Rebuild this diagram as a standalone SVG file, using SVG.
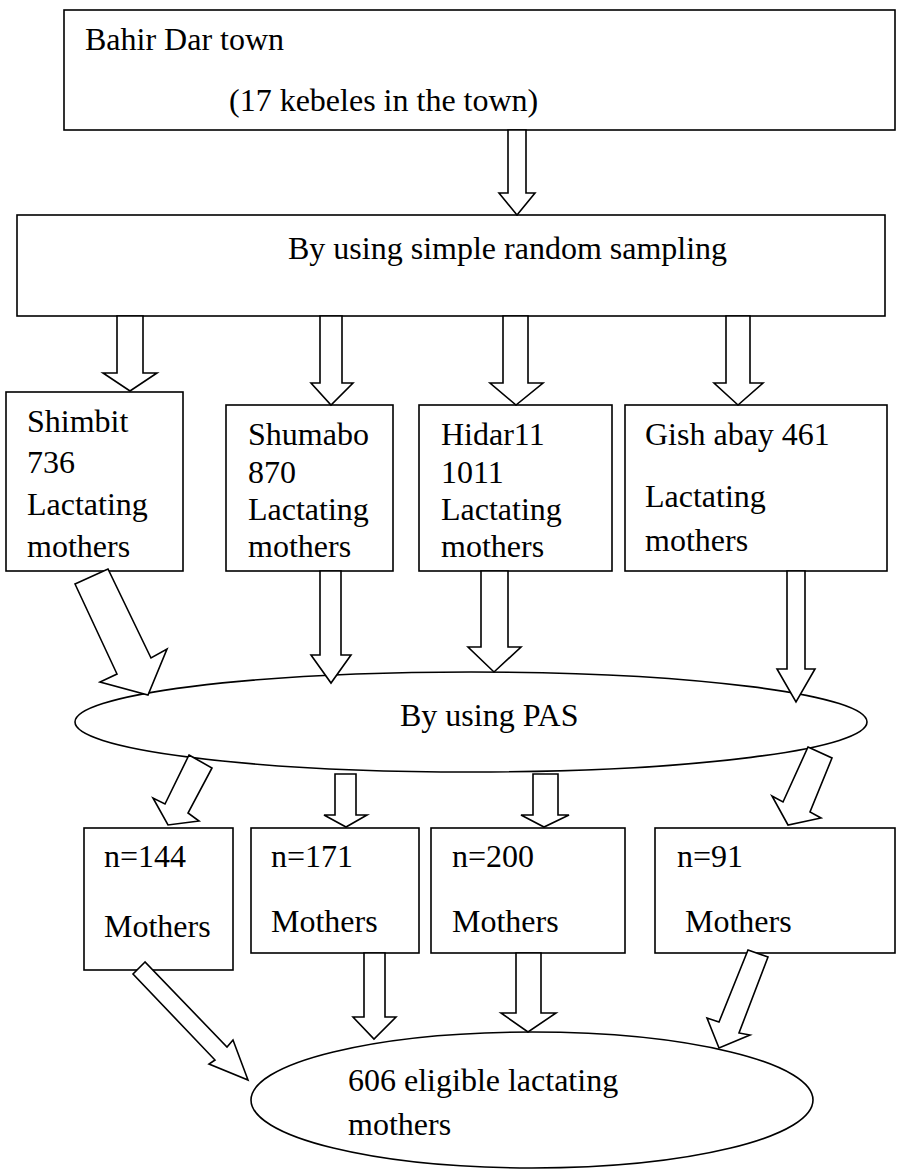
<svg xmlns="http://www.w3.org/2000/svg" width="898" height="1172" viewBox="0 0 898 1172">
<style>
.box{fill:#fff;stroke:#000;stroke-width:1.6}
.arr{fill:#fff;stroke:#000;stroke-width:1.6;stroke-linejoin:miter}
.t{font-family:"Liberation Serif","Times New Roman",serif;font-size:32px;fill:#000}
</style>
<rect width="898" height="1172" fill="#fff"/>
<g id="n-town">
<rect class="box" x="64" y="10" width="831" height="120"/>
<text class="t" x="85" y="50">Bahir Dar town</text>
<text class="t" x="229" y="111">(17 kebeles in the town)</text>
</g>
<g id="n-srs">
<rect class="box" x="17" y="215" width="868" height="101"/>
<text class="t" x="288" y="259">By using simple random sampling</text>
</g>
<g id="n-shimbit">
<rect class="box" x="6" y="392" width="177" height="179"/>
<text class="t" x="27" y="432">Shimbit</text>
<text class="t" x="27" y="473">736</text>
<text class="t" x="27" y="515">Lactating</text>
<text class="t" x="27" y="557">mothers</text>
</g>
<g id="n-shumabo">
<rect class="box" x="226" y="405" width="167" height="166"/>
<text class="t" x="248" y="445">Shumabo</text>
<text class="t" x="248" y="483">870</text>
<text class="t" x="248" y="520">Lactating</text>
<text class="t" x="248" y="557">mothers</text>
</g>
<g id="n-hidar">
<rect class="box" x="419" y="405" width="193" height="166"/>
<text class="t" x="441" y="445">Hidar11</text>
<text class="t" x="441" y="483">1011</text>
<text class="t" x="441" y="520">Lactating</text>
<text class="t" x="441" y="557">mothers</text>
</g>
<g id="n-gish">
<rect class="box" x="625" y="405" width="262" height="166"/>
<text class="t" x="645" y="445">Gish abay 461</text>
<text class="t" x="645" y="507">Lactating</text>
<text class="t" x="645" y="551">mothers</text>
</g>
<g id="n-pas">
<ellipse class="box" cx="471" cy="722" rx="396" ry="50"/>
<text class="t" x="400" y="726">By using PAS</text>
</g>
<g id="n-144">
<rect class="box" x="84" y="828" width="149" height="142"/>
<text class="t" x="104" y="867">n=144</text>
<text class="t" x="104" y="937">Mothers</text>
</g>
<g id="n-171">
<rect class="box" x="251" y="828" width="168" height="125"/>
<text class="t" x="271" y="867">n=171</text>
<text class="t" x="271" y="932">Mothers</text>
</g>
<g id="n-200">
<rect class="box" x="431" y="828" width="194" height="125"/>
<text class="t" x="452" y="867">n=200</text>
<text class="t" x="452" y="932">Mothers</text>
</g>
<g id="n-91">
<rect class="box" x="655" y="828" width="240" height="125"/>
<text class="t" x="677" y="867">n=91</text>
<text class="t" x="685" y="932">Mothers</text>
</g>
<g id="n-606">
<ellipse class="box" cx="532" cy="1100" rx="281" ry="68"/>
<text class="t" x="348" y="1091">606 eligible lactating</text>
<text class="t" x="348" y="1135">mothers</text>
</g>
<g id="connectors">
<polygon class="arr" points="508,130 526,130 526,193 535,193 517,215 499,193 508,193"/>
<polygon class="arr" points="117,316 143,316 143,373 157,373 130,391 103,373 117,373"/>
<polygon class="arr" points="320,316 342,316 342,383 353,383 331,405 311,383 320,383"/>
<polygon class="arr" points="503,316 528,316 528,383 543,383 516,405 490,383 503,383"/>
<polygon class="arr" points="726,316 750,316 750,383 763,383 738,405 714,383 726,383"/>
<polygon class="arr" points="75,584 108,569 151,658 167,649 148,695 100,682 117,674"/>
<polygon class="arr" points="320,571 341,571 341,655 351,655 331,683 311,655 320,655"/>
<polygon class="arr" points="481,571 508,571 508,647 521,647 494,672 468,647 481,647"/>
<polygon class="arr" points="787,571 805,571 805,669 815,669 796,702 777,669 787,669"/>
<polygon class="arr" points="189,755 212,768 188,813 199,821 168,825 153,798 165,804"/>
<polygon class="arr" points="335,774 356,774 356,815 367,815 346,827 324,815 335,815"/>
<polygon class="arr" points="533,774 558,774 558,815 569,815 544,827 521,815 533,815"/>
<polygon class="arr" points="808,747 832,758 810,812 821,818 788,825 772,796 783,802"/>
<polygon class="arr" points="145,962 133,974 215,1060 209,1064 248,1080 233,1040 227,1047"/>
<polygon class="arr" points="364,953 385,953 385,1017 396,1017 374,1039 353,1017 364,1017"/>
<polygon class="arr" points="516,953 541,953 541,1013 556,1013 528,1032 501,1013 516,1013"/>
<polygon class="arr" points="748,950 768,957 739,1033 750,1035 719,1048 707,1018 719,1022"/>
</g>
</svg>
